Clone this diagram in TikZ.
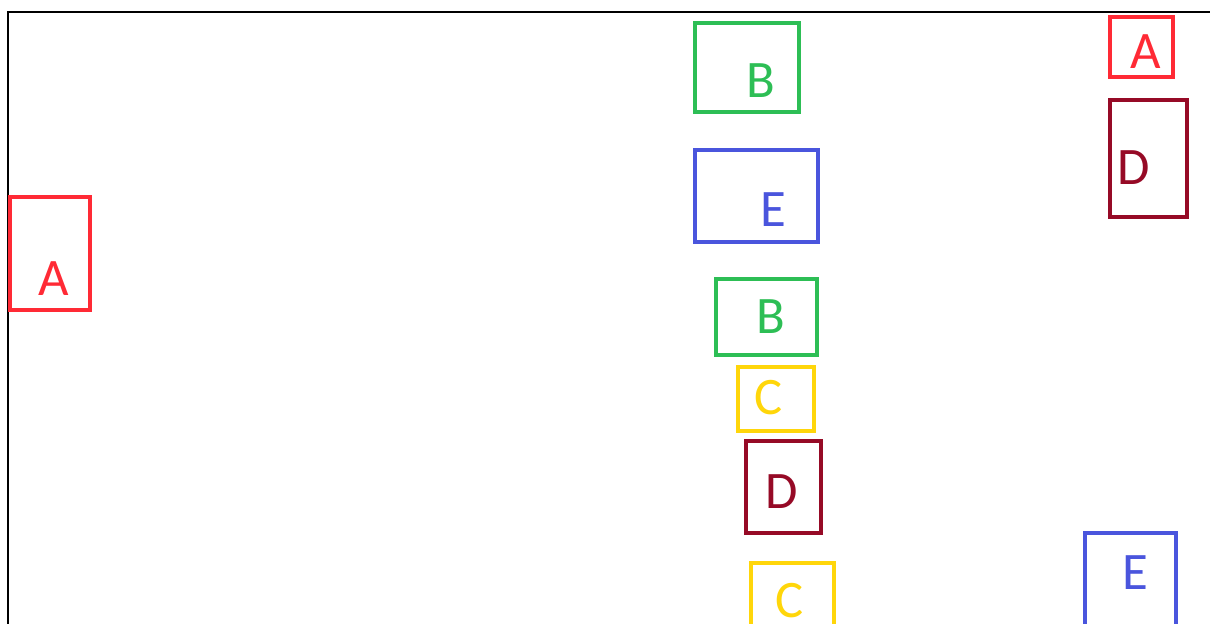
\documentclass[tikz,border=0pt]{standalone}
\usepackage{fontspec}
\setmainfont{Carlito}
\definecolor{BoxRed}{HTML}{FF2A35}
\definecolor{BoxGreen}{HTML}{2DBE55}
\definecolor{BoxBlue}{HTML}{4A55DD}
\definecolor{BoxYellow}{HTML}{FFD60A}
\definecolor{BoxWine}{HTML}{960A26}

\begin{document}
\begin{tikzpicture}[x=0.02cm,y=-0.02cm, every node/.style={font=\fontsize{30}{36}\selectfont, anchor=base, inner sep=0pt},
  box/.style={line width=2.3pt}]
  \useasboundingbox (0,0) rectangle (1210,623);
  \clip (0,0) rectangle (1210,623);
  % frame
  \draw[line width=1.4pt] (8,640) -- (8,12) -- (1230,12);
  % left column
  \draw[box, BoxRed] (10,197) rectangle (90,310);
  \node[color=BoxRed] (leftA) at (54,295) {A};
  % middle column
  \draw[box, BoxGreen] (695,23) rectangle (799,112);
  \node[color=BoxGreen] (midB1) at (761,97) {B};
  \draw[box, BoxBlue] (695,150) rectangle (818,242);
  \node[color=BoxBlue] (midE) at (773,226) {E};
  \draw[box, BoxGreen] (716,279) rectangle (817,355);
  \node[color=BoxGreen] (midB2) at (771,333) {B};
  \draw[box, BoxYellow] (738,367) rectangle (814,431);
  \node[color=BoxYellow] (midC1) at (769,414) {C};
  \draw[box, BoxWine] (746,441) rectangle (821,533);
  \node[color=BoxWine] (midD) at (782,508) {D};
  \draw[box, BoxYellow] (751,563) rectangle (834,650);
  \node[color=BoxYellow] (midC2) at (790,617) {C};
  % right column
  \draw[box, BoxRed] (1110,17) rectangle (1173,77);
  \node[color=BoxRed] (rightA) at (1146,68) {A};
  \draw[box, BoxWine] (1110,100) rectangle (1187,217);
  \node[color=BoxWine] (rightD) at (1134,184) {D};
  \draw[box, BoxBlue] (1085,533) rectangle (1176,650);
  \node[color=BoxBlue] (rightE) at (1135,589) {E};
\end{tikzpicture}
\end{document}
